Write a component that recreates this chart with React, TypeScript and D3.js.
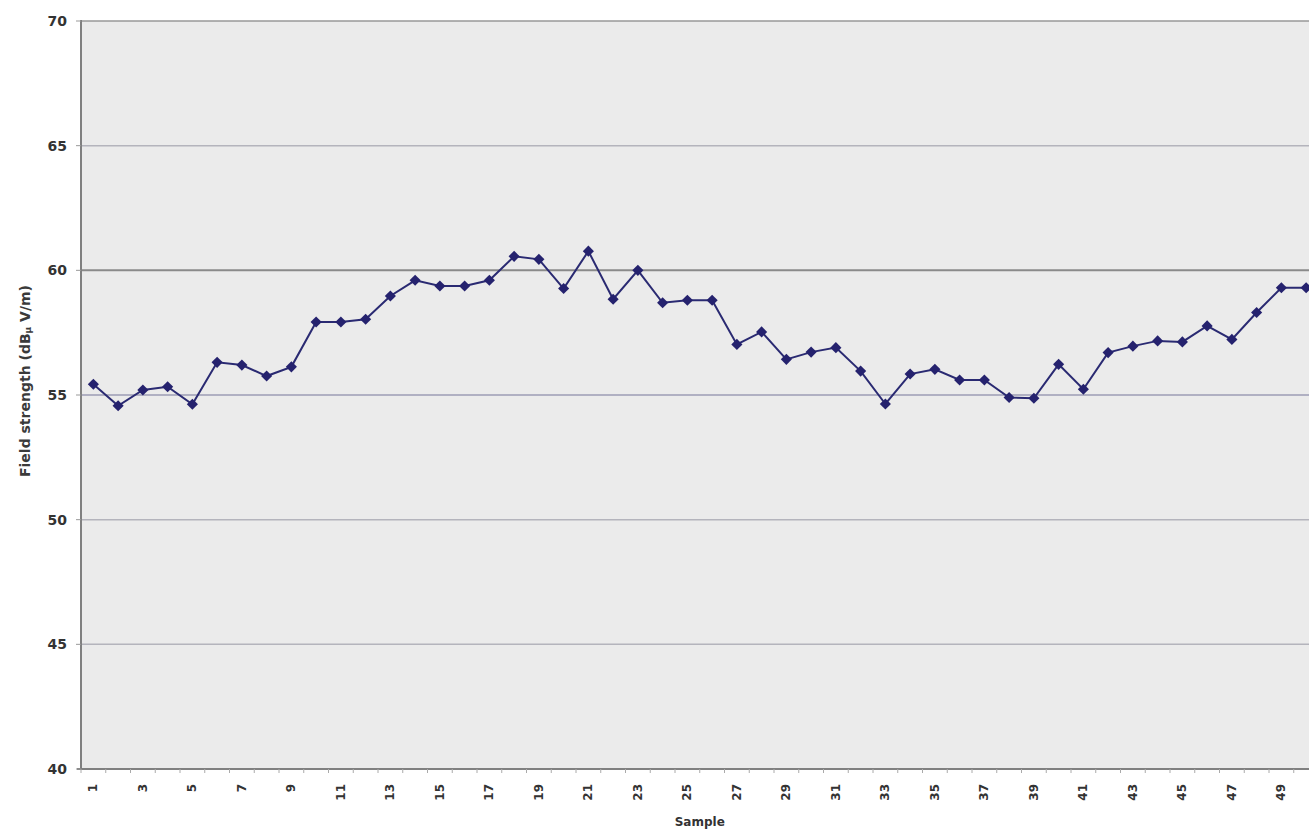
import React from "react";
import * as d3 from "d3";

const samples: number[] = Array.from({ length: 50 }, (_, i) => i + 1);
const fieldStrength: number[] = [
  55.43, 54.57, 55.2, 55.33, 54.63, 56.31, 56.2, 55.76, 56.13, 57.93,
  57.93, 58.04, 58.97, 59.6, 59.37, 59.37, 59.6, 60.56, 60.44, 59.27,
  60.77, 58.84, 60.0, 58.7, 58.8, 58.8, 57.03, 57.53, 56.43, 56.72,
  56.9, 55.96, 54.64, 55.84, 56.03, 55.6, 55.6, 54.9, 54.87, 56.23,
  55.23, 56.7, 56.96, 57.17, 57.13, 57.77, 57.23, 58.31, 59.3, 59.3,
];
const yTicks: number[] = [40, 45, 50, 55, 60, 65, 70];
const xTickLabels: number[] = samples.filter((s) => s % 2 === 1);

const W = 1309;
const H = 834;
const left = 81;
const top = 21;
const bottom = 769;
const plotRight = 81 + 50 * 24.75;
const FONT = "'DejaVu Sans', Verdana, sans-serif";

export default function App() {
  const x = d3.scaleBand<number>().domain(samples).range([left, plotRight]).padding(0);
  const y = d3.scaleLinear().domain([40, 70]).range([bottom, top]);
  const cx = (s: number) => (x(s) as number) + x.bandwidth() / 2;

  const line = d3
    .line<number>()
    .x((_, i) => cx(samples[i]))
    .y((d) => y(d));

  const diamond = d3.symbol().type(d3.symbolSquare).size(62)() as string;
  const gridColor = (t: number) => (t === 60 ? "#8a8a8a" : t === 55 ? "#9d9db4" : "#b4b4bc");

  return (
    <svg width={W} height={H} style={{ position: "absolute", left: 0, top: 0, background: "#fff" }}
      fontFamily={FONT}>
      <rect x={left} y={top} width={plotRight - left} height={bottom - top} fill="#ebebeb" />
      {yTicks.filter((t) => t !== 40 && t !== 70).map((t) => (
        <line key={t} x1={left} x2={plotRight} y1={y(t)} y2={y(t)} stroke={gridColor(t)} strokeWidth={t === 60 ? 2 : 1.5} />
      ))}
      <line x1={left} x2={plotRight} y1={top} y2={top} stroke="#999" strokeWidth={1.5} />
      <line x1={left} x2={left} y1={top - 1} y2={bottom} stroke="#808080" strokeWidth={2} />
      <line x1={left - 4} x2={plotRight} y1={bottom} y2={bottom} stroke="#808080" strokeWidth={2} />
      {samples.map((s) => (
        <line key={"t" + s} x1={x(s) as number} x2={x(s) as number} y1={bottom} y2={bottom + 4} stroke="#aaa" strokeWidth={1} />
      ))}
      {yTicks.map((t) => (
        <g key={"y" + t}>
          <line x1={left - 5} x2={left} y1={y(t)} y2={y(t)} stroke="#999" />
          <text x={67} y={y(t)} textAnchor="end" dominantBaseline="central" fontSize={14} fontWeight="bold" fill="#333">{t}</text>
        </g>
      ))}
      {xTickLabels.map((s) => (
        <text key={"x" + s} transform={`translate(${cx(s)},${784}) rotate(-90)`} textAnchor="end" dominantBaseline="central"
          fontSize={12} fontWeight="bold" fill="#333">{s}</text>
      ))}
      <path d={line(fieldStrength) as string} fill="none" stroke="#2a2a72" strokeWidth={2} />
      {fieldStrength.map((v, i) => (
        <path key={"m" + i} d={diamond} transform={`translate(${cx(samples[i])},${y(v)}) rotate(45)`} fill="#25226e" />
      ))}
      <text transform={`translate(25,${381}) rotate(-90)`} textAnchor="middle" dominantBaseline="central" fontSize={14} fontWeight="bold" fill="#3a3a3a">
        Field strength (dB<tspan fontSize={9} dy={3}>μ</tspan><tspan dy={-3}> V/m)</tspan>
      </text>
      <text x={(left + plotRight) / 2} y={822} textAnchor="middle" dominantBaseline="central" fontSize={12} fontWeight="bold" fill="#333">Sample</text>
    </svg>
  );
}
